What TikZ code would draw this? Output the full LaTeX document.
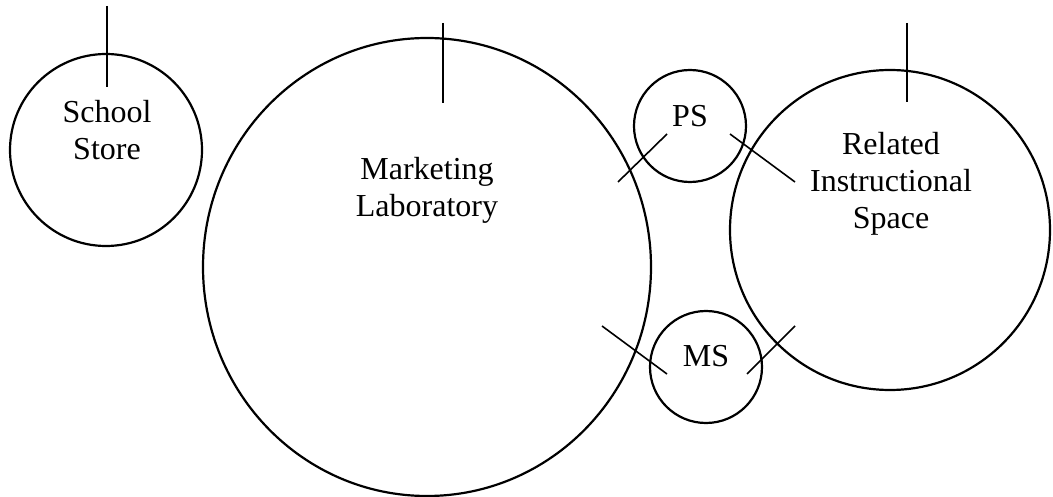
\documentclass[tikz,border=0pt]{standalone}
\usepackage{fontspec}
\setmainfont{Liberation Serif}
\usetikzlibrary{shapes.geometric}
\begin{document}
\begin{tikzpicture}[x=1pt,y=-1pt,
  room/.style={draw, line width=2.2pt, circle, inner sep=0pt},
  lbl/.style={align=center, inner sep=0pt, font=\fontsize{32}{37}\selectfont},
  tick/.style={line width=1.6pt}]
\useasboundingbox (0,0) rectangle (1053,497);
% rooms
\node[room, minimum size=192pt] (ss) at (106,150) {};
\node[room, ellipse, minimum width=448pt, minimum height=458pt] (ml) at (427,267) {};
\node[room, minimum size=112pt] (ps) at (690,126) {};
\node[room, minimum size=112pt] (ms) at (706,367) {};
\node[room, minimum size=320pt] (ris) at (890,230) {};
% labels
\node[lbl] (ssl) at (107,130) {School\\Store};
\node[lbl] (mll) at (427,190) {Marketing\\Laboratory};
\node[lbl] (psl) at (690,116) {PS};
\node[lbl] (msl) at (706,356) {MS};
\node[lbl] (risl) at (891,184) {Related\\Instructional\\Space};
% ticks
\coordinate (ssa) at (107,6);   \coordinate (ssb) at (107,87);
\coordinate (mla) at (443,23);  \coordinate (mlb) at (443,103);
\coordinate (risa) at (907,23); \coordinate (risb) at (907,102);
\draw[tick] (ssa) -- (ssb);
\draw[tick] (mla) -- (mlb);
\draw[tick] (risa) -- (risb);
% connectors
\coordinate (p1) at (667,134); \coordinate (p2) at (618,182);
\coordinate (p3) at (730,134); \coordinate (p4) at (795,182);
\coordinate (m1) at (602,326); \coordinate (m2) at (667,374);
\coordinate (m3) at (747,374); \coordinate (m4) at (795,326);
\draw[tick] (p1) -- (p2);
\draw[tick] (p3) -- (p4);
\draw[tick] (m1) -- (m2);
\draw[tick] (m3) -- (m4);
\end{tikzpicture}
\end{document}
